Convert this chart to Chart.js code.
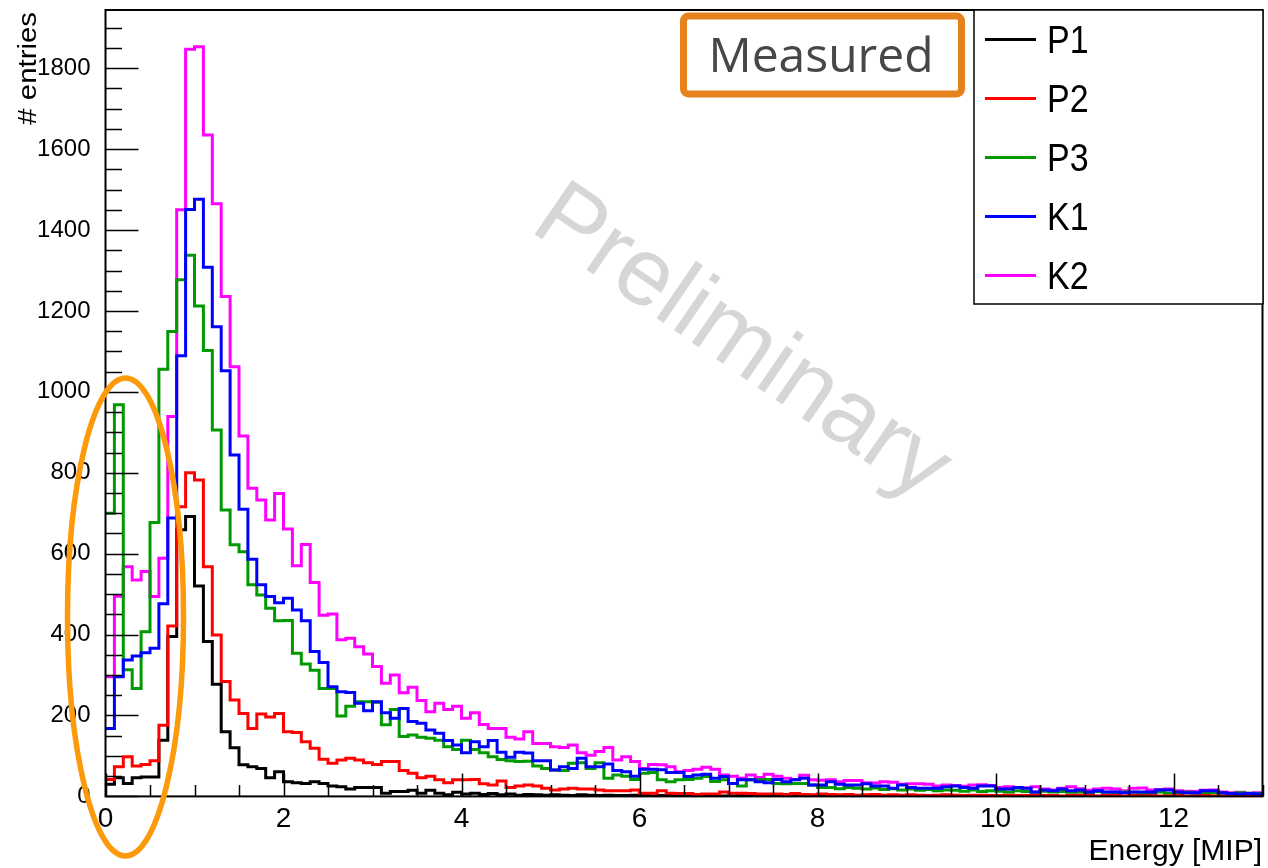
<!DOCTYPE html>
<html>
<head>
<meta charset="utf-8">
<script src="https://cdn.jsdelivr.net/npm/chart.js@4.4.1/dist/chart.umd.min.js"></script>
<style>
  body { margin: 0; background: #ffffff; }
  #wrap { width: 1268px; height: 868px; }
</style>
</head>
<body>
<div id="wrap"><canvas id="grafico" width="1268" height="868"></canvas></div>
<script>
// histogram bins: 130 bins of 0.1 MIP from 0 to 13
const binWidth = 0.1;

const p1 = [
  30, 46, 32, 46, 48, 48, 139, 395, 659, 692,
  520, 383, 277, 160, 120, 78, 73, 69, 46, 61,
  36, 34, 32, 36, 32, 26, 24, 18, 22, 22,
  22, 8, 12, 12, 15, 8, 15, 8, 4, 10,
  6, 8, 5, 7, 4, 6, 3, 5, 4, 3,
  4, 3, 2, 4, 3, 2, 3, 2, 2, 3,
  2, 1, 2, 2, 1, 2, 1, 1, 2, 1,
  1, 2, 1, 1, 0, 1, 1, 0, 1, 1,
  0, 1, 1, 0, 1, 0, 0, 1, 0, 1,
  0, 1, 0, 0, 1, 0, 0, 0, 1, 0,
  0, 1, 0, 0, 0, 1, 0, 0, 0, 0,
  1, 0, 0, 0, 0, 0, 1, 0, 0, 0,
  0, 0, 0, 1, 0, 0, 0, 0, 0, 0
];
const p2 = [
  42, 73, 98, 75, 79, 88, 176, 421, 716, 800,
  782, 568, 399, 284, 238, 205, 168, 204, 196, 205,
  160, 158, 135, 119, 92, 82, 90, 94, 90, 83,
  79, 86, 86, 64, 57, 46, 50, 41, 34, 41,
  41, 42, 31, 28, 38, 22, 26, 28, 26, 20,
  16, 18, 20, 18, 18, 16, 14, 14, 14, 16,
  8, 8, 14, 8, 7, 7, 5, 6, 6, 11,
  8, 8, 7, 6, 6, 6, 5, 7, 5, 4,
  6, 5, 4, 5, 3, 4, 5, 3, 4, 3,
  4, 3, 2, 3, 4, 3, 2, 3, 3, 2,
  2, 3, 2, 2, 3, 2, 2, 1, 2, 3,
  2, 1, 2, 2, 1, 2, 1, 2, 1, 1,
  2, 1, 1, 2, 1, 1, 1, 2, 1, 1
];
const p3 = [
  700, 968, 313, 267, 407, 677, 1056, 1149, 1277, 1338,
  1212, 1102, 906, 708, 622, 605, 523, 498, 465, 434,
  435, 354, 327, 312, 267, 267, 199, 223, 234, 234,
  233, 177, 215, 148, 152, 146, 144, 139, 123, 116,
  139, 116, 108, 98, 91, 88, 86, 87, 75, 69,
  65, 64, 82, 83, 69, 83, 45, 53, 50, 42,
  57, 59, 41, 36, 41, 42, 45, 49, 37, 41,
  32, 26, 41, 41, 42, 32, 31, 32, 32, 28,
  22, 22, 19, 22, 20, 18, 21, 17, 19, 16,
  18, 15, 17, 14, 16, 15, 13, 16, 12, 14,
  13, 11, 14, 12, 10, 13, 11, 12, 10, 11,
  9, 12, 10, 9, 11, 10, 8, 9, 11, 8,
  9, 10, 8, 7, 9, 8, 7, 9, 8, 7
];
const k1 = [
  168, 296, 337, 347, 355, 366, 476, 688, 1089, 1451,
  1476, 1308, 1161, 1052, 844, 710, 586, 523, 494, 479,
  490, 461, 434, 358, 331, 271, 259, 257, 230, 212,
  234, 207, 193, 217, 185, 181, 164, 156, 138, 127,
  108, 135, 123, 138, 109, 97, 109, 107, 88, 88,
  65, 73, 69, 94, 73, 73, 80, 64, 61, 50,
  67, 67, 66, 59, 59, 49, 53, 55, 45, 49,
  32, 41, 41, 36, 34, 42, 36, 41, 45, 28,
  28, 36, 30, 28, 28, 31, 26, 26, 20, 28,
  22, 20, 20, 20, 24, 26, 22, 20, 26, 26,
  18, 18, 22, 20, 11, 16, 14, 18, 14, 16,
  11, 14, 11, 11, 9, 11, 11, 11, 16, 16,
  11, 9, 9, 14, 14, 9, 7, 6, 7, 6
];
const k2 = [
  296, 495, 568, 535, 556, 494, 589, 939, 1450, 1847,
  1853, 1635, 1465, 1236, 1062, 891, 762, 733, 683, 749,
  661, 570, 623, 529, 448, 451, 387, 391, 370, 352,
  321, 280, 300, 256, 270, 237, 209, 230, 215, 223,
  193, 207, 178, 168, 168, 146, 142, 160, 131, 131,
  123, 121, 127, 108, 102, 111, 121, 90, 98, 86,
  69, 79, 78, 73, 61, 64, 67, 72, 67, 53,
  50, 45, 53, 47, 55, 50, 45, 42, 52, 41,
  40, 41, 36, 39, 39, 34, 33, 36, 35, 30,
  31, 31, 30, 26, 28, 27, 25, 28, 29, 27,
  22, 24, 22, 21, 24, 18, 16, 20, 24, 19,
  15, 18, 20, 18, 14, 20, 21, 16, 17, 18,
  14, 13, 12, 15, 16, 11, 9, 10, 8, 9
];

const seriesNames = ['P1', 'P2', 'P3', 'K1', 'K2'];
const seriesValues = [p1, p2, p3, k1, k2];
const seriesColors = ['#000000', '#ff0000', '#009900', '#0000ff', '#ff00ff'];
const drawOrder = [2, 1, 3, 0, 4]; // blue on top, magenta at the back

const xTickLabels = [0, 2, 4, 6, 8, 10, 12];
const yTickLabels = [0, 200, 400, 600, 800, 1000, 1200, 1400, 1600, 1800];
const xRange = [0, 13];
const yRange = [0, 1944];

// left bin edges + closing point at the right edge
function histoPoints(values) {
  const pts = values.map((v, i) => ({ x: +(i * binWidth).toFixed(2), y: v }));
  pts.push({ x: +(values.length * binWidth).toFixed(2), y: values[values.length - 1] });
  return pts;
}

const FONT = '"Liberation Sans", Arial, Helvetica, sans-serif';
Chart.defaults.font.family = FONT;
Chart.defaults.color = '#000';

// ROOT-like decorations: frame, inner ticks, legend, labels, notes
const decor = {
  id: 'decor',
  beforeDatasetsDraw(chart) {
    const ctx = chart.ctx;
    ctx.save();
    ctx.translate(741, 344);
    ctx.rotate(34.5 * Math.PI / 180);
    ctx.font = '96px ' + FONT;
    ctx.fillStyle = '#d6d6d6';
    ctx.textAlign = 'center';
    ctx.textBaseline = 'middle';
    ctx.fillText('Preliminary', 0, 0);
    ctx.restore();
  },
  afterDatasetsDraw(chart) {
    const ctx = chart.ctx;
    const a = chart.chartArea;
    const xs = chart.scales.x, ys = chart.scales.y;

    ctx.save();
    // ticks
    ctx.strokeStyle = '#000';
    ctx.lineWidth = 1.5;
    ctx.beginPath();
    for (let v = 0; v <= yRange[1]; v += 50) {
      const y = Math.round(ys.getPixelForValue(v)) + 0.5;
      const len = v % 200 === 0 ? 33 : 16.5;
      ctx.moveTo(a.left, y);
      ctx.lineTo(a.left + len, y);
    }
    for (let v = 0; v <= xRange[1]; v += 0.5) {
      const x = Math.round(xs.getPixelForValue(v)) + 0.5;
      const len = v % 2 === 0 ? 23 : 11.5;
      ctx.moveTo(x, a.bottom);
      ctx.lineTo(x, a.bottom - len);
    }
    ctx.stroke();

    // frame
    ctx.lineWidth = 2;
    ctx.strokeRect(a.left, a.top, a.right - a.left, a.bottom - a.top);

    // legend box
    ctx.lineWidth = 1.5;
    ctx.fillStyle = '#fff';
    ctx.fillRect(974, 10, 289, 294);
    ctx.strokeRect(974, 10, 289, 294);
    seriesNames.forEach((name, k) => {
      const yc = 39.5 + 59 * k;
      ctx.strokeStyle = seriesColors[k];
      ctx.lineWidth = 3;
      ctx.beginPath();
      ctx.moveTo(985, yc);
      ctx.lineTo(1036, yc);
      ctx.stroke();
      ctx.save();
      ctx.translate(1047, yc + 13.6);
      ctx.scale(1, 1.12);
      ctx.font = '34px ' + FONT;
      ctx.fillStyle = '#000';
      ctx.textBaseline = 'alphabetic';
      ctx.fillText(name, 0, 0);
      ctx.restore();
    });

    // "Measured" box
    ctx.strokeStyle = '#e6821e';
    ctx.lineWidth = 7;
    ctx.beginPath();
    ctx.roundRect(683.5, 16, 278, 78, 5);
    ctx.stroke();
    ctx.font = '48px "Open Sans", "Noto Sans", ' + FONT;
    ctx.fillStyle = '#474747';
    ctx.textAlign = 'center';
    ctx.textBaseline = 'alphabetic';
    ctx.fillText('Measured', 821, 72);

    // axis titles
    ctx.fillStyle = '#000';
    ctx.font = '30px ' + FONT;
    ctx.textAlign = 'right';
    ctx.fillText('Energy [MIP]', 1262, 860);

    ctx.save();
    ctx.translate(36, 12);
    ctx.rotate(-Math.PI / 2);
    ctx.scale(1.13, 1);
    ctx.font = '26px ' + FONT;
    ctx.textAlign = 'right';
    ctx.fillText('# entries', 0, 0);
    ctx.restore();

    // orange highlight ellipse
    ctx.strokeStyle = '#fd9a0c';
    ctx.lineWidth = 5.5;
    ctx.beginPath();
    ctx.ellipse(125.5, 617, 58, 239, 0, 0, Math.PI * 2);
    ctx.stroke();
    ctx.restore();
  }
};

const ctx = document.getElementById('grafico').getContext('2d');
new Chart(ctx, {
  type: 'line',
  data: {
    datasets: seriesNames.map((name, k) => ({
      label: name,
      data: histoPoints(seriesValues[k]),
      borderColor: seriesColors[k],
      backgroundColor: seriesColors[k],
      borderWidth: 3,
      pointRadius: 0,
      fill: false,
      stepped: 'before',
      tension: 0,
      order: drawOrder[k]
    }))
  },
  options: {
    responsive: false,
    animation: false,
    devicePixelRatio: 1,
    layout: { padding: { top: 10, right: 5.5, left: 0, bottom: 0 } },
    plugins: { legend: { display: false }, tooltip: { enabled: false } },
    scales: {
      x: {
        type: 'linear',
        min: xRange[0],
        max: xRange[1],
        afterFit: s => { s.height = 71.6; s.paddingLeft = 0; s.paddingRight = 0; },
        afterBuildTicks: s => { s.ticks = xTickLabels.map(v => ({ value: v })); },
        grid: { display: false, drawTicks: false },
        border: { display: false },
        ticks: { font: { size: 28 }, color: '#000', padding: 6, maxRotation: 0, callback: v => String(v) }
      },
      y: {
        type: 'linear',
        min: yRange[0],
        max: yRange[1],
        afterFit: s => { s.width = 105.5; s.paddingTop = 0; s.paddingBottom = 0; },
        afterBuildTicks: s => { s.ticks = yTickLabels.map(v => ({ value: v })); },
        grid: { display: false, drawTicks: false },
        border: { display: false },
        ticks: { font: { size: 24 }, color: '#000', padding: 15, callback: v => String(v) }
      }
    }
  },
  plugins: [decor]
});
</script>
</body>
</html>
